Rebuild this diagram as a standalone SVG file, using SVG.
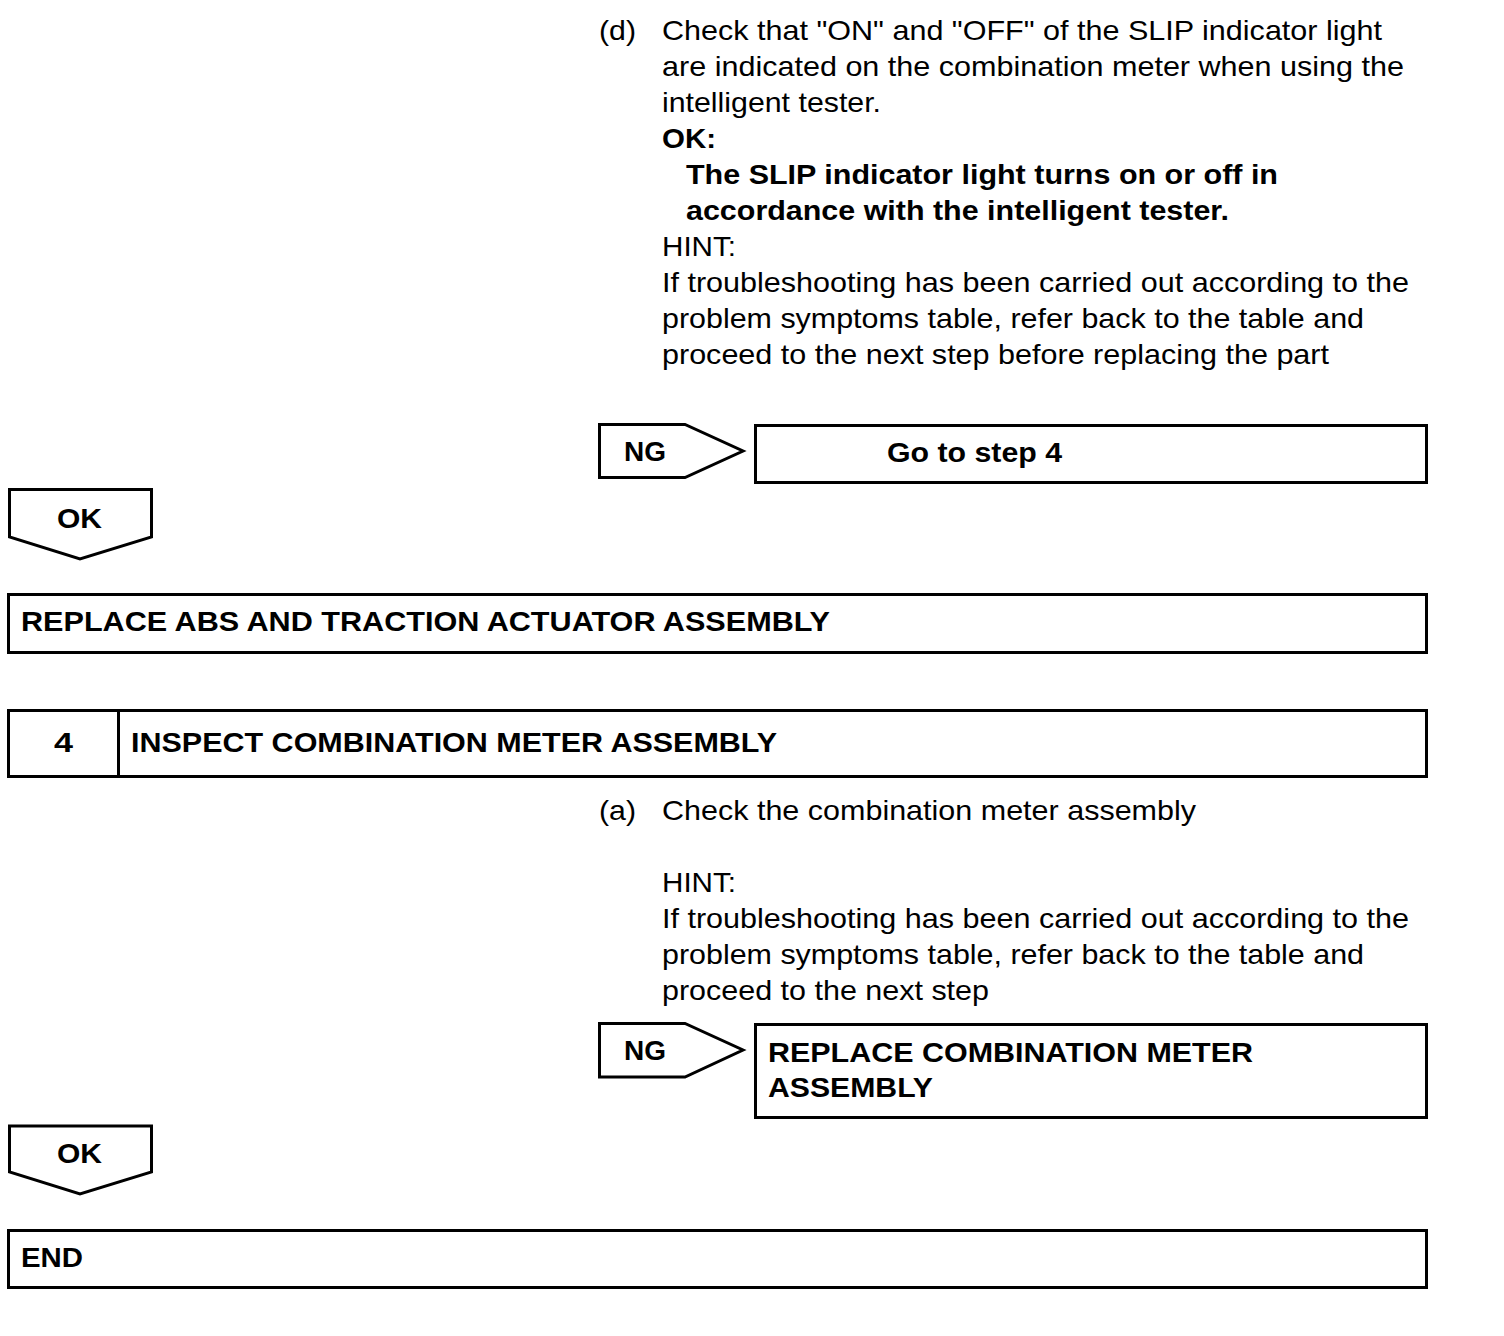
<svg xmlns="http://www.w3.org/2000/svg" width="1504" height="1336" viewBox="0 0 1504 1336">
<style>
text{font-family:"Liberation Sans",Arial,sans-serif;font-size:28px;fill:#000}
.b{font-weight:bold}
.s{fill:#fff;stroke:#000;stroke-width:3}
</style>
<rect width="1504" height="1336" fill="#fff"/>
<g id="step3-text">
<text x="599" y="40" textLength="37" lengthAdjust="spacingAndGlyphs">(d)</text>
<text x="662" y="40" textLength="720" lengthAdjust="spacingAndGlyphs">Check that "ON" and "OFF" of the SLIP indicator light</text>
<text x="662" y="76" textLength="742" lengthAdjust="spacingAndGlyphs">are indicated on the combination meter when using the</text>
<text x="662" y="112" textLength="219" lengthAdjust="spacingAndGlyphs">intelligent tester.</text>
<text x="662" y="148" class="b" textLength="54" lengthAdjust="spacingAndGlyphs">OK:</text>
<text x="686" y="184" class="b" textLength="592" lengthAdjust="spacingAndGlyphs">The SLIP indicator light turns on or off in</text>
<text x="686" y="220" class="b" textLength="543" lengthAdjust="spacingAndGlyphs">accordance with the intelligent tester.</text>
<text x="662" y="256" textLength="74" lengthAdjust="spacingAndGlyphs">HINT:</text>
<text x="662" y="292" textLength="747" lengthAdjust="spacingAndGlyphs">If troubleshooting has been carried out according to the</text>
<text x="662" y="328" textLength="702" lengthAdjust="spacingAndGlyphs">problem symptoms table, refer back to the table and</text>
<text x="662" y="364" textLength="667" lengthAdjust="spacingAndGlyphs">proceed to the next step before replacing the part</text>
</g>
<g id="connectors">
<g id="ng1"><path class="s" d="M599.5,424.5 H685 L743,451 L685,477.5 H599.5 Z"/><text x="624" y="461" class="b" textLength="42" lengthAdjust="spacingAndGlyphs">NG</text></g>
<g id="ok1"><path class="s" d="M9.5,489.5 H151.5 V537 L80,559 L9.5,537 Z"/><text x="57" y="528" class="b" textLength="45" lengthAdjust="spacingAndGlyphs">OK</text></g>
<g id="ng2"><path class="s" d="M599.5,1023.5 H685 L743,1050 L685,1077 H599.5 Z"/><text x="624" y="1060" class="b" textLength="42" lengthAdjust="spacingAndGlyphs">NG</text></g>
<g id="ok2"><path class="s" d="M9.5,1126 H151.5 V1172 L80,1194 L9.5,1172 Z"/><text x="57" y="1163" class="b" textLength="45" lengthAdjust="spacingAndGlyphs">OK</text></g>
</g>
<g id="goto4"><rect class="s" x="755.5" y="425.5" width="671" height="57"/><text x="887" y="462" class="b" textLength="175" lengthAdjust="spacingAndGlyphs">Go to step 4</text></g>
<g id="replace-abs"><rect class="s" x="8.5" y="594.5" width="1418" height="58"/><text x="21" y="631" class="b" textLength="809" lengthAdjust="spacingAndGlyphs">REPLACE ABS AND TRACTION ACTUATOR ASSEMBLY</text></g>
<g id="step4"><rect class="s" x="8.5" y="710.5" width="1418" height="66"/><line x1="118.5" y1="710" x2="118.5" y2="777" stroke="#000" stroke-width="3"/><text x="54" y="752" class="b" textLength="19" lengthAdjust="spacingAndGlyphs">4</text><text x="131" y="752" class="b" textLength="646" lengthAdjust="spacingAndGlyphs">INSPECT COMBINATION METER ASSEMBLY</text></g>
<g id="step4-text">
<text x="599" y="820" textLength="37" lengthAdjust="spacingAndGlyphs">(a)</text>
<text x="662" y="820" textLength="534" lengthAdjust="spacingAndGlyphs">Check the combination meter assembly</text>
<text x="662" y="892" textLength="74" lengthAdjust="spacingAndGlyphs">HINT:</text>
<text x="662" y="928" textLength="747" lengthAdjust="spacingAndGlyphs">If troubleshooting has been carried out according to the</text>
<text x="662" y="964" textLength="702" lengthAdjust="spacingAndGlyphs">problem symptoms table, refer back to the table and</text>
<text x="662" y="1000" textLength="327" lengthAdjust="spacingAndGlyphs">proceed to the next step</text>
</g>
<g id="replace-meter"><rect class="s" x="755.5" y="1024.5" width="671" height="93"/><text x="768" y="1062" class="b" textLength="485" lengthAdjust="spacingAndGlyphs">REPLACE COMBINATION METER</text><text x="768" y="1097" class="b" textLength="165" lengthAdjust="spacingAndGlyphs">ASSEMBLY</text></g>
<g id="end"><rect class="s" x="8.5" y="1230.5" width="1418" height="57"/><text x="21" y="1267" class="b" textLength="62" lengthAdjust="spacingAndGlyphs">END</text></g>
</svg>
